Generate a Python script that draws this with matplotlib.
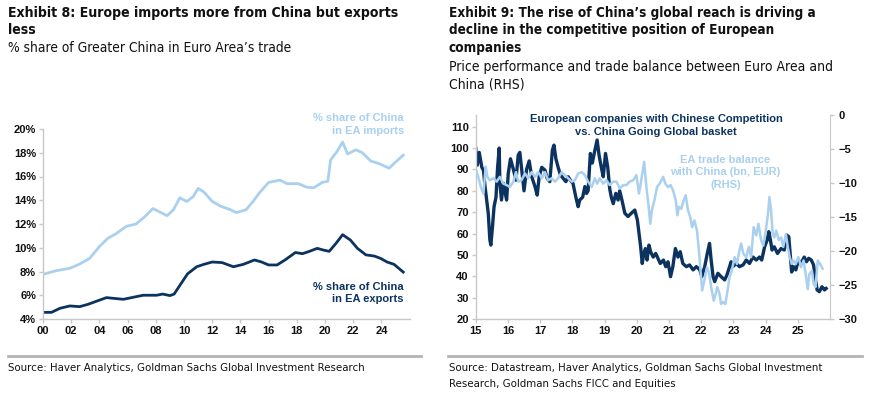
import os
import matplotlib
matplotlib.use("Agg")
import matplotlib.pyplot as plt
from matplotlib import font_manager as fm
from matplotlib.lines import Line2D

# Exhibit 8: share of Greater China in Euro Area trade (%)
imp_years = [2000.0, 2000.95, 2001.9, 2002.6, 2003.3, 2004.0, 2004.6, 2005.2, 2005.9, 2006.6,
             2007.2, 2007.8, 2008.3, 2008.8, 2009.25, 2009.7, 2010.2, 2010.65, 2011.0, 2011.4,
             2012.0, 2012.6, 2013.3, 2013.7, 2014.4, 2014.9, 2015.4, 2016.0, 2016.8, 2017.3,
             2018.1, 2018.7, 2019.2, 2019.8, 2020.2, 2020.4, 2020.85, 2021.25, 2021.6, 2022.2,
             2022.65, 2023.25, 2023.8, 2024.55, 2024.9, 2025.55]
imp_vals = [7.76, 8.07, 8.27, 8.63, 9.1, 10.1, 10.8, 11.2, 11.8, 12.0,
            12.6, 13.3, 13.0, 12.7, 13.2, 14.2, 13.9, 14.3, 15.0, 14.7,
            13.9, 13.5, 13.2, 12.96, 13.2, 13.9, 14.7, 15.5, 15.7, 15.4,
            15.4, 15.1, 15.05, 15.5, 15.6, 17.4, 18.1, 18.9, 17.9, 18.25,
            18.0, 17.3, 17.1, 16.7, 17.1, 17.8]

exp_years = [2000.0, 2000.6, 2001.2, 2001.9, 2002.6, 2003.2, 2003.8, 2004.5, 2005.0, 2005.7,
             2006.4, 2007.1, 2008.05, 2008.5, 2009.0, 2009.3, 2009.8, 2010.25, 2010.9, 2011.4,
             2012.0, 2012.7, 2013.5, 2014.2, 2015.0, 2015.5, 2016.0, 2016.6, 2017.2, 2017.9,
             2018.4, 2018.9, 2019.45, 2019.9, 2020.3, 2020.8, 2021.25, 2021.8, 2022.3, 2022.9,
             2023.5, 2023.95, 2024.4, 2024.9, 2025.55]
exp_vals = [4.56, 4.56, 4.9, 5.1, 5.04, 5.24, 5.5, 5.8, 5.74, 5.66,
            5.83, 6.0, 6.0, 6.1, 5.97, 6.1, 7.0, 7.8, 8.4, 8.6,
            8.8, 8.75, 8.4, 8.6, 8.97, 8.8, 8.55, 8.55, 9.0, 9.6,
            9.5, 9.7, 9.95, 9.8, 9.7, 10.4, 11.1, 10.65, 9.95, 9.4,
            9.3, 9.1, 8.8, 8.6, 7.95]

left_yticks = [4, 6, 8, 10, 12, 14, 16, 18, 20]
left_xticks = list(range(2000, 2025, 2))
left_xlabels = ["00", "02", "04", "06", "08", "10", "12", "14", "16", "18", "20", "22", "24"]

# Exhibit 9: price performance (LHS) and EA trade balance with China, bn EUR (RHS)
perf_years = [2015.0, 2015.05, 2015.11, 2015.19, 2015.24, 2015.29, 2015.34, 2015.39, 2015.44, 2015.47,
              2015.52, 2015.57, 2015.63, 2015.68, 2015.73, 2015.75, 2015.8, 2015.86, 2015.96, 2016.01,
              2016.08, 2016.17, 2016.25, 2016.32, 2016.37, 2016.42, 2016.5, 2016.58, 2016.66, 2016.74,
              2016.84, 2016.91, 2016.97, 2017.05, 2017.15, 2017.22, 2017.3, 2017.38, 2017.43, 2017.49,
              2017.56, 2017.63, 2017.72, 2017.8, 2017.87, 2017.94, 2018.02, 2018.11, 2018.18, 2018.23,
              2018.32, 2018.39, 2018.44, 2018.49, 2018.56, 2018.62, 2018.7, 2018.77, 2018.83, 2018.9,
              2018.96, 2019.03, 2019.1, 2019.16, 2019.21, 2019.27, 2019.35, 2019.42, 2019.47, 2019.54,
              2019.63, 2019.73, 2019.83, 2019.94, 2020.02, 2020.07, 2020.12, 2020.17, 2020.22, 2020.27,
              2020.32, 2020.38, 2020.43, 2020.51, 2020.59, 2020.66, 2020.73, 2020.83, 2020.9, 2020.97,
              2021.05, 2021.12, 2021.2, 2021.28, 2021.35, 2021.43, 2021.54, 2021.64, 2021.75, 2021.85,
              2021.96, 2022.02, 2022.11, 2022.19, 2022.26, 2022.31, 2022.37, 2022.42, 2022.52, 2022.62,
              2022.73, 2022.8, 2022.88, 2022.93, 2022.98, 2023.09, 2023.19, 2023.3, 2023.4, 2023.5,
              2023.61, 2023.71, 2023.81, 2023.88, 2023.97, 2024.05, 2024.1, 2024.15, 2024.2, 2024.27,
              2024.37, 2024.48, 2024.58, 2024.66, 2024.72, 2024.77, 2024.81, 2024.87, 2024.94, 2025.02,
              2025.1, 2025.2, 2025.27, 2025.34, 2025.42, 2025.49, 2025.55, 2025.6, 2025.67, 2025.75,
              2025.83, 2025.88]
perf_vals = [100, 92, 98, 91, 89.7, 82, 75.7, 69.5, 57, 54.6,
             63, 72.6, 77, 91, 100, 83.5, 75.7, 83.5, 75.7, 88,
             95, 90, 85, 96.7, 98, 91, 80, 90, 94, 86.6,
             82, 78, 86.6, 91, 89.7, 85.8, 84.3, 99, 101.4, 95,
             91, 87.4, 85.8, 84.3, 86.6, 85, 83.5, 77, 72.6, 75.7,
             77, 82, 78.8, 80, 97.5, 93, 99, 103.8, 96.7, 91,
             86.6, 97.5, 91, 81, 77, 74, 78.8, 75.7, 80, 75.7,
             69.5, 68, 69.5, 71, 66.3, 60, 54, 46, 50.7, 53,
             47.6, 54.6, 51.5, 49, 50.7, 48.4, 46, 47.6, 44.5, 46.8,
             39.8, 44.5, 53, 49, 51.5, 46, 44.5, 45.3, 43, 44.5,
             43, 39.8, 44.5, 50.7, 55.4, 47.6, 39.8, 37.5, 41.4, 39.8,
             38.3, 40.6, 44.5, 46.8, 44.5, 46, 44.5, 45.3, 47.6, 46,
             49, 47.6, 49, 47.6, 53.8, 57, 60.9, 57, 52.3, 53.8,
             50.7, 53, 52.3, 59.3, 58.5, 49, 42, 44.5, 43, 47.6,
             46, 49, 46.8, 48.4, 47.6, 45.3, 38.3, 33.6, 32.8, 35.1,
             33.6, 34.3]

tb_years = [2015.0, 2015.08, 2015.16, 2015.24, 2015.31, 2015.36, 2015.44, 2015.55, 2015.65, 2015.75,
            2015.86, 2015.96, 2016.06, 2016.17, 2016.25, 2016.32, 2016.42, 2016.53, 2016.63, 2016.74,
            2016.84, 2016.94, 2017.05, 2017.15, 2017.25, 2017.36, 2017.46, 2017.56, 2017.67, 2017.77,
            2017.87, 2017.98, 2018.08, 2018.18, 2018.29, 2018.39, 2018.49, 2018.6, 2018.7, 2018.77,
            2018.85, 2018.96, 2019.06, 2019.16, 2019.27, 2019.37, 2019.47, 2019.58, 2019.68, 2019.78,
            2019.89, 2019.99, 2020.07, 2020.14, 2020.23, 2020.3, 2020.37, 2020.42, 2020.47, 2020.55,
            2020.63, 2020.71, 2020.82, 2020.89, 2020.97, 2021.05, 2021.13, 2021.21, 2021.26, 2021.31,
            2021.38, 2021.46, 2021.52, 2021.59, 2021.66, 2021.72, 2021.79, 2021.87, 2021.93, 2021.98,
            2022.03, 2022.1, 2022.18, 2022.24, 2022.31, 2022.39, 2022.45, 2022.5, 2022.57, 2022.62,
            2022.67, 2022.75, 2022.82, 2022.88, 2022.95, 2023.04, 2023.11, 2023.19, 2023.24, 2023.31,
            2023.4, 2023.48, 2023.55, 2023.63, 2023.71, 2023.78, 2023.86, 2023.93, 2023.99, 2024.07,
            2024.12, 2024.17, 2024.22, 2024.27, 2024.33, 2024.41, 2024.48, 2024.55, 2024.63, 2024.69,
            2024.74, 2024.81, 2024.87, 2024.94, 2025.02, 2025.1, 2025.18, 2025.26, 2025.31, 2025.36,
            2025.44, 2025.49, 2025.55, 2025.62, 2025.69, 2025.77]
tb_vals = [-7.9, -9.1, -10.6, -11.55, -7.6, -9.1, -9.6, -9.3, -9.8, -9.1,
           -10.1, -10.3, -10.6, -9.8, -8.4, -9.8, -9.6, -8.6, -9.3, -8.4,
           -9.1, -8.4, -9.3, -8.4, -9.6, -9.3, -9.8, -9.3, -8.4, -8.85,
           -9.3, -9.8, -9.6, -8.6, -8.4, -8.85, -9.8, -10.6, -9.3, -10.1,
           -9.3, -10.1, -9.6, -10.3, -9.8, -9.8, -10.8, -10.3, -10.3, -9.8,
           -9.6, -8.85, -11.55, -9.6, -6.9, -10.6, -13.5, -16.0, -14.0, -12.5,
           -10.6, -10.1, -9.1, -10.1, -10.6, -10.3, -11.1, -12.5, -14.75, -13.5,
           -13.8, -12.5, -11.8, -14.0, -15.0, -16.5, -15.5, -17.0, -19.9, -22.9,
           -25.8, -24.3, -22.4, -23.1, -25.3, -27.3, -26.3, -25.3, -26.3, -27.8,
           -27.5, -27.8, -25.8, -23.85, -22.9, -20.9, -21.9, -19.9, -18.9, -20.4,
           -20.9, -19.4, -20.9, -16.5, -17.7, -16.0, -18.4, -19.2, -17.5, -14.75,
           -12.05, -14.0, -17.5, -18.0, -17.0, -18.4, -18.0, -19.4, -17.5, -19.4,
           -20.7, -21.9, -21.4, -21.9, -20.9, -22.4, -21.4, -23.85, -25.6, -23.4,
           -22.9, -24.8, -25.3, -21.4, -21.9, -22.6]

right_xticks = list(range(2015, 2026))
right_xlabels = ["15", "16", "17", "18", "19", "20", "21", "22", "23", "24", "25"]
lhs_ticks = [20, 30, 40, 50, 60, 70, 80, 90, 100, 110]
rhs_ticks = [-30, -25, -20, -15, -10, -5, 0]

DARK = "#0c3360"
LIGHT = "#a9d0ef"
GRID = "#c8c8c8"
TXT = "#111111"
ARIAL = ["Liberation Sans", "DejaVu Sans"]


# a narrow face for the report text, if one is around
def narrow_font(bold):
    wanted = (["LiberationSansNarrow-Bold.ttf", "DejaVuSansCondensed-Bold.ttf",
               "NotoSans-CondensedBold.ttf", "RobotoCondensed-Bold.ttf",
               "OpenSans_Condensed-Bold.ttf", "OpenSansCondensed-Bold.ttf"] if bold else
              ["LiberationSansNarrow-Regular.ttf", "DejaVuSansCondensed.ttf",
               "NotoSans-Condensed.ttf", "RobotoCondensed-Regular.ttf",
               "OpenSans_Condensed-Regular.ttf", "OpenSansCondensed-Regular.ttf"])
    found = {os.path.basename(f.fname): f.fname for f in fm.fontManager.ttflist}
    for w in wanted:
        if w in found:
            return fm.FontProperties(fname=found[w])
    return fm.FontProperties(family="Liberation Sans", weight="bold" if bold else "normal")


NARROW_B = narrow_font(True)
NARROW_R = narrow_font(False)

W, H = 879, 398
fig = plt.figure(figsize=(W / 100, H / 100), dpi=100)


def fx(px):
    return px / W


def fy(py):
    return 1 - py / H


def style_axes(ax):
    for s in ["top", "right"]:
        ax.spines[s].set_visible(False)
    for s in ["left", "bottom"]:
        ax.spines[s].set_color(GRID)
        ax.spines[s].set_linewidth(1.0)
    ax.tick_params(colors=GRID, labelcolor=TXT, length=3, width=1, labelsize=8, pad=2)
    for lab in ax.get_xticklabels() + ax.get_yticklabels():
        lab.set_family(ARIAL)
        lab.set_fontweight("bold")


# ---- left panel ----
ax1 = fig.add_axes([fx(43), fy(319), fx(409.6 - 43), (319 - 129) / H])
ax1.plot(imp_years, imp_vals, color=LIGHT, lw=2.0, solid_joinstyle="round")
ax1.plot(exp_years, exp_vals, color=DARK, lw=2.0, solid_joinstyle="round")
ax1.set_xlim(2000, 2026)
ax1.set_ylim(4, 20)
ax1.set_yticks(left_yticks)
ax1.set_yticklabels([f"{v}%" for v in left_yticks])
ax1.set_xticks(left_xticks)
ax1.set_xticklabels(left_xlabels)
style_axes(ax1)
ax1.text(2025.6, 20.38, "% share of China\nin EA imports", color=LIGHT, fontsize=8,
         fontweight="bold", ha="right", va="center", family=ARIAL, linespacing=1.3)
ax1.text(2025.6, 6.2, "% share of China\nin EA exports", color=DARK, fontsize=8,
         fontweight="bold", ha="right", va="center", family=ARIAL, linespacing=1.3)

# ---- right panel ----
ax2 = fig.add_axes([fx(475.7), fy(319), fx(830 - 475.7), (319 - 115) / H])
ax2.plot(perf_years, perf_vals, color=DARK, lw=2.4, solid_joinstyle="round")
ax2.set_xlim(2015, 2026)
ax2.set_ylim(20, 115.5)
ax2.set_yticks(lhs_ticks)
ax2.set_xticks(right_xticks)
ax2.set_xticklabels(right_xlabels)
style_axes(ax2)

ax3 = ax2.twinx()
ax3.plot(tb_years, tb_vals, color=LIGHT, lw=1.8, solid_joinstyle="round")
ax3.set_ylim(-30, 0)
ax3.set_yticks(rhs_ticks)
for s in ["top", "left", "bottom"]:
    ax3.spines[s].set_visible(False)
ax3.spines["right"].set_color(GRID)
ax3.tick_params(colors=GRID, labelcolor=TXT, length=3, width=1, labelsize=8, pad=3)
for lab in ax3.get_yticklabels():
    lab.set_family(ARIAL)
    lab.set_fontweight("bold")

ax2.text(2020.6, 110.5, "European companies with Chinese Competition\nvs. China Going Global basket",
         color=DARK, fontsize=8, fontweight="bold", ha="center", va="center", family=ARIAL,
         linespacing=1.3)
ax3.text(2022.75, -8.4, "EA trade balance\nwith China (bn, EUR)\n(RHS)", color=LIGHT, fontsize=8,
         fontweight="bold", ha="center", va="center", family=ARIAL, linespacing=1.3)

# ---- titles, subtitles, sources: one text per line, sized to the reference width ----
blocks = [
    (["Exhibit 8: Europe imports more from China but exports", "less"], 8, [13, 30], NARROW_B, 388),
    (["% share of Greater China in Euro Area\u2019s trade"], 8, [48], NARROW_R, 283),
    (["Exhibit 9: The rise of China\u2019s global reach is driving a",
      "decline in the competitive position of European", "companies"], 449, [13, 30, 48], NARROW_B, 366),
    (["Price performance and trade balance between Euro Area and", "China (RHS)"], 449, [67, 84],
     NARROW_R, 385),
    (["Source: Haver Analytics, Goldman Sachs Global Investment Research"], 8, [368], NARROW_R, 356),
    (["Source: Datastream, Haver Analytics, Goldman Sachs Global Investment",
      "Research, Goldman Sachs FICC and Equities"], 449, [368, 384], NARROW_R, 372),
]

renderer = fig.canvas.get_renderer()
for lines, x, ys, fp, target in blocks:
    texts = []
    for line, y in zip(lines, ys):
        t = fig.text(fx(x), fy(y), line, fontproperties=fp.copy(), color=TXT, ha="left", va="center")
        t.set_fontsize(10)
        texts.append(t)
    width = max(t.get_window_extent(renderer).width for t in texts)
    for t in texts:
        t.set_fontsize(10 * target / width)

fig.add_artist(Line2D([fx(8), fx(421)], [fy(356), fy(356)], color="#b3b3b3", lw=2))
fig.add_artist(Line2D([fx(448), fx(862)], [fy(356), fy(356)], color="#b3b3b3", lw=2))

fig.savefig("out.png", dpi=100)
